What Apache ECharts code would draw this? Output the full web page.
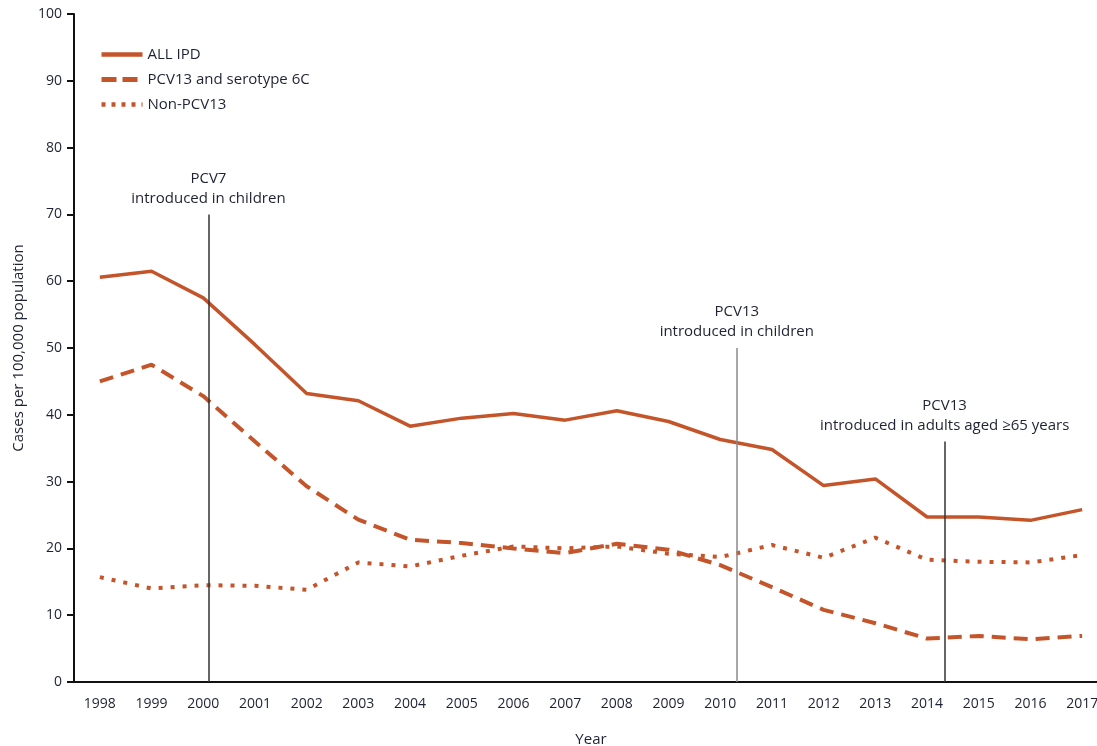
<!DOCTYPE html>
<html>
<head>
<meta charset="utf-8">
<script src="https://cdn.jsdelivr.net/npm/echarts@6/dist/echarts.min.js"></script>
<style>
html,body{margin:0;padding:0;background:#fff;}
#c{width:1097px;height:746px;}
</style>
</head>
<body>
<div id="c"></div>
<script>
var years = ['1998','1999','2000','2001','2002','2003','2004','2005','2006','2007','2008','2009','2010','2011','2012','2013','2014','2015','2016','2017'];
var allIPD = [60.6,61.5,57.5,50.5,43.2,42.1,38.3,39.5,40.2,39.2,40.6,39.0,36.3,34.8,29.4,30.4,24.7,24.7,24.2,25.8];
var pcv13 = [45.0,47.5,42.8,36.0,29.3,24.3,21.3,20.8,20.0,19.3,20.7,19.8,17.5,14.2,10.8,8.8,6.5,6.9,6.4,6.9];
var nonPcv13 = [15.7,14.0,14.5,14.4,13.8,17.9,17.3,18.9,20.3,20.0,20.3,19.2,18.7,20.5,18.6,21.6,18.3,18.0,17.9,19.0];
var yTicks = [0,10,20,30,40,50,60,70,80,90,100];
var events = [
  {year: 2000.1, top: 70, label: 'PCV7\nintroduced in children', color: '#333333'},
  {year: 2010.32, top: 50, label: 'PCV13\nintroduced in children', color: '#8a8a8a'},
  {year: 2014.34, top: 36, label: 'PCV13\nintroduced in adults aged \u226565 years', color: '#333333'}
];

var ORANGE = '#c4552b';
var TXT = '#1e2233';
var FONT = 'Open Sans';
var firstYear = Number(years[0]);

var chart = echarts.init(document.getElementById('c'), null, {renderer: 'canvas'});

var markData = events.map(function (e) {
  var xi = e.year - firstYear;
  return [
    {coord: [xi, 0], lineStyle: {color: e.color, width: 1.5, type: 'solid'}, label: {formatter: e.label}},
    {coord: [xi, e.top]}
  ];
});

chart.setOption({
  animation: false,
  textStyle: {fontFamily: FONT},
  grid: {left: 74, top: 14, height: 668, width: 1034, containLabel: false, outerBoundsMode: 'none'},
  legend: {
    orient: 'vertical', left: 94, top: 42, itemWidth: 41, itemHeight: 14, itemGap: 10,
    textStyle: {color: TXT, fontSize: 15, fontFamily: FONT},
    itemStyle: {opacity: 0},
    data: [
      {name: 'ALL IPD', lineStyle: {width: 4.5, type: 'solid'}},
      {name: 'PCV13 and serotype 6C', lineStyle: {width: 5, type: [15, 6]}},
      {name: 'Non-PCV13', lineStyle: {width: 4.5, type: [4, 6], dashOffset: -10}}
    ]
  },
  xAxis: [{
    type: 'category', data: years, boundaryGap: true,
    name: 'Year', nameLocation: 'middle', nameGap: 50,
    nameTextStyle: {color: TXT, fontSize: 15, fontFamily: FONT},
    axisLine: {onZero: false, lineStyle: {color: '#111', width: 2}},
    axisTick: {alignWithLabel: true, length: 7, lineStyle: {color: '#111', width: 2}},
    axisLabel: {color: TXT, fontSize: 14, margin: 15, fontFamily: FONT, interval: 0},
    splitLine: {show: false}
  }, {
    type: 'value', min: -0.5, max: years.length - 0.5, show: false
  }],
  yAxis: {
    type: 'value', min: yTicks[0], max: yTicks[yTicks.length - 1], interval: yTicks[1] - yTicks[0],
    name: 'Cases per 100,000 population', nameLocation: 'middle', nameGap: 48,
    nameTextStyle: {color: TXT, fontSize: 15, fontFamily: FONT},
    axisLine: {show: true, onZero: false, lineStyle: {color: '#111', width: 2}},
    axisTick: {show: true, length: 7, lineStyle: {color: '#111', width: 2}},
    axisLabel: {color: TXT, fontSize: 14, margin: 12, fontFamily: FONT},
    splitLine: {show: false}
  },
  series: [{
    name: 'ALL IPD', type: 'line', data: allIPD, symbol: 'none',
    itemStyle: {color: ORANGE},
    lineStyle: {color: ORANGE, width: 3.5, type: 'solid'}
  }, {
    name: 'PCV13 and serotype 6C', type: 'line', data: pcv13, symbol: 'none',
    itemStyle: {color: ORANGE},
    lineStyle: {color: ORANGE, width: 4, type: [14, 8]}
  }, {
    name: 'Non-PCV13', type: 'line', data: nonPcv13, symbol: 'none',
    itemStyle: {color: ORANGE},
    lineStyle: {color: ORANGE, width: 4, type: [4, 8]}
  }, {
    name: 'events', type: 'line', xAxisIndex: 1, data: [], symbol: 'none',
    silent: true,
    markLine: {
      symbol: ['none', 'none'], silent: true, animation: false,
      label: {show: true, position: 'end', color: TXT, fontSize: 15, lineHeight: 20, fontFamily: FONT, distance: 6, align: 'center'},
      data: markData
    }
  }]
});
</script>
</body>
</html>
